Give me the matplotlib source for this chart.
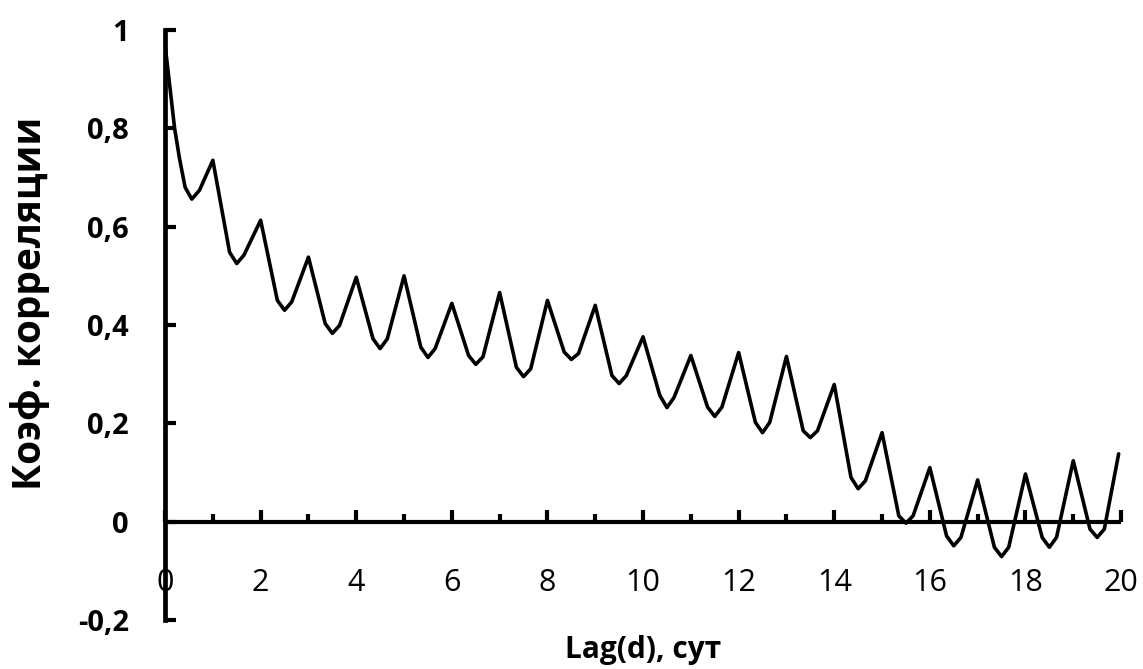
import matplotlib
matplotlib.use("Agg")
import matplotlib.pyplot as plt
from matplotlib.ticker import MultipleLocator, FixedLocator

plt.rcParams['font.family'] = ['Open Sans', 'DejaVu Sans']

# Autocorrelation of the series versus lag (days)
lag_days = [0, 0.2, 0.3, 0.42, 0.56, 0.72, 1,
            1.35, 1.5, 1.65, 2, 2.35, 2.5, 2.65, 3, 3.35, 3.5, 3.65, 4,
            4.35, 4.5, 4.65, 5, 5.35, 5.5, 5.65, 6, 6.35, 6.5, 6.65, 7,
            7.35, 7.5, 7.65, 8, 8.35, 8.5, 8.65, 9, 9.35, 9.5, 9.65, 10,
            10.35, 10.5, 10.65, 11, 11.35, 11.5, 11.65, 12, 12.35, 12.5, 12.65, 13,
            13.35, 13.5, 13.65, 14, 14.35, 14.5, 14.65, 15, 15.35, 15.5, 15.65, 16,
            16.35, 16.5, 16.65, 17, 17.35, 17.5, 17.65, 18, 18.35, 18.5, 18.65, 19,
            19.35, 19.5, 19.65, 19.95]
acf = [0.97, 0.80, 0.74, 0.68, 0.656, 0.674, 0.735,
       0.548, 0.525, 0.542, 0.613, 0.45, 0.43, 0.447, 0.538, 0.403, 0.383, 0.399, 0.497,
       0.372, 0.352, 0.372, 0.50, 0.355, 0.334, 0.352, 0.444, 0.338, 0.32, 0.335, 0.466,
       0.314, 0.295, 0.311, 0.45, 0.345, 0.33, 0.342, 0.44, 0.297, 0.281, 0.297, 0.376,
       0.257, 0.232, 0.253, 0.338, 0.233, 0.214, 0.233, 0.344, 0.202, 0.181, 0.202, 0.336,
       0.185, 0.171, 0.185, 0.279, 0.09, 0.067, 0.083, 0.181, 0.012, -0.003, 0.012, 0.11,
       -0.029, -0.049, -0.032, 0.085, -0.052, -0.071, -0.052, 0.097, -0.032, -0.052, -0.032, 0.124,
       -0.015, -0.032, -0.015, 0.138]

x_ticks = [0, 2, 4, 6, 8, 10, 12, 14, 16, 18, 20]
y_ticks = [-0.2, 0, 0.2, 0.4, 0.6, 0.8, 1.0]
y_tick_labels = ['-0,2', '0', '0,2', '0,4', '0,6', '0,8', '1']

fig = plt.figure(figsize=(11.43, 6.69), dpi=100)
ax = fig.add_axes([0.1444, 0.0732, 0.8364, 0.882])

ax.plot(lag_days, acf, color='black', linewidth=2.6,
        solid_joinstyle='round', solid_capstyle='round', zorder=3)

ax.set_xlim(0, 20)
ax.set_ylim(-0.2, 1.0)

for side in ('top', 'right'):
    ax.spines[side].set_visible(False)
ax.spines['bottom'].set_position(('data', 0))
ax.spines['bottom'].set_linewidth(3)
ax.spines['left'].set_linewidth(3.4)
ax.spines['bottom'].set_capstyle('butt')

ax.xaxis.set_major_locator(FixedLocator(x_ticks))
ax.xaxis.set_minor_locator(MultipleLocator(1))
ax.set_yticks(y_ticks)
ax.set_yticklabels(y_tick_labels, fontweight='bold')

ax.tick_params(axis='x', which='major', direction='in', length=8.5, width=3,
               pad=33, labelsize=22)
ax.tick_params(axis='x', which='minor', direction='in', length=5.5, width=3)
ax.tick_params(axis='y', which='major', direction='in', length=8, width=3,
               pad=26, labelsize=21)

ax.set_xlabel('Lag(d), сут', fontsize=21.5, fontweight='bold', va='center')
ax.xaxis.set_label_coords(0.5, -0.051)
ax.set_ylabel('Коэф. корреляции', fontsize=28, fontweight='bold', va='center')
ax.yaxis.set_label_coords(-0.141, 0.536)

fig.savefig('out.png', dpi=100, facecolor='white')
